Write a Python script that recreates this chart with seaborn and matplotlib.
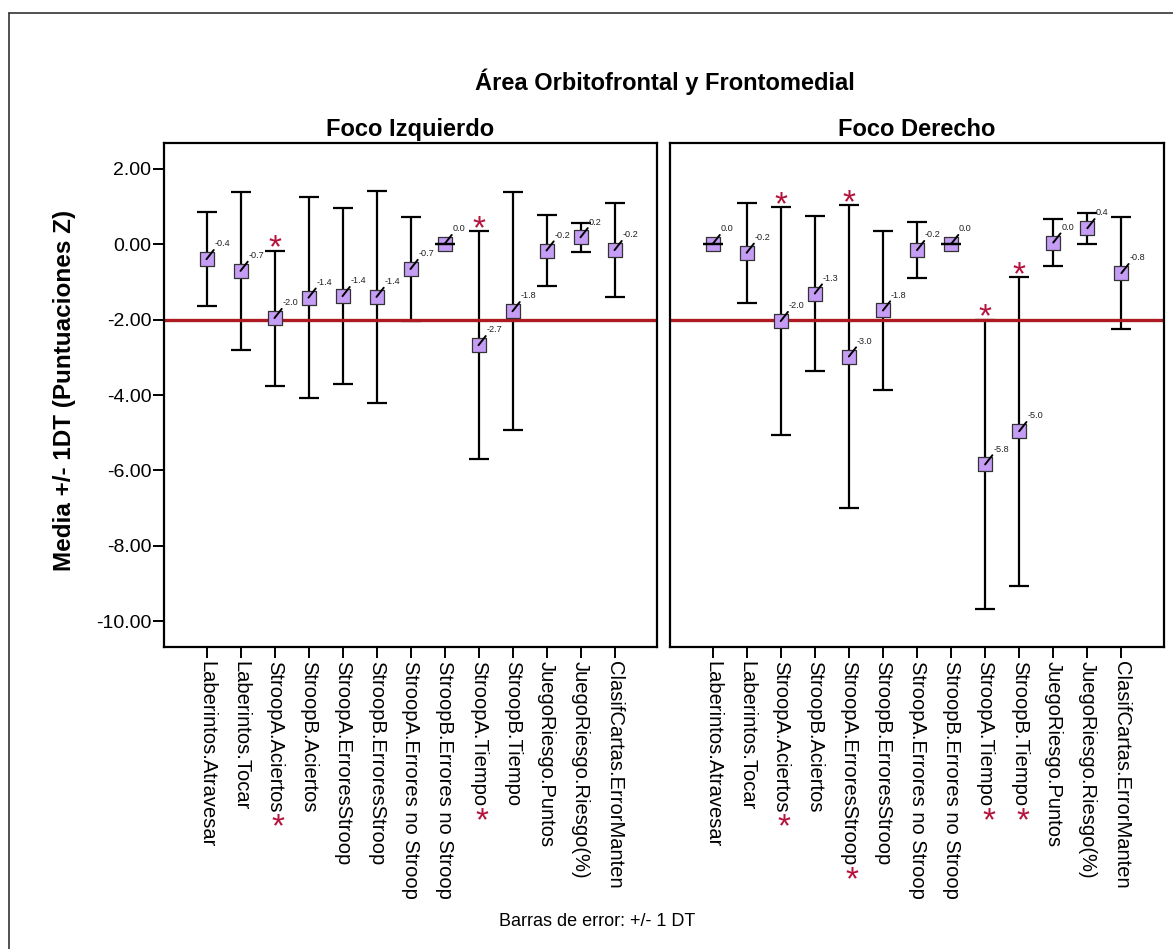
import matplotlib
matplotlib.use("Agg")
import matplotlib.pyplot as plt
from matplotlib.lines import Line2D
import numpy as np
import pandas as pd
import seaborn as sns

# Pruebas neuropsicológicas (eje X común a ambos paneles)
pruebas = [
    "Laberintos.Atravesar", "Laberintos.Tocar", "StroopA.Aciertos",
    "StroopB.Aciertos", "StroopA.ErroresStroop", "StroopB.ErroresStroop",
    "StroopA.Errores no Stroop", "StroopB.Errores no Stroop",
    "StroopA.Tiempo", "StroopB.Tiempo", "JuegoRiesgo.Puntos",
    "JuegoRiesgo.Riesgo(%)", "ClasifCartas.ErrorManten",
]

# Foco izquierdo: media y desviación típica (puntuaciones Z)
media_izq = [-0.40, -0.71, -1.96, -1.42, -1.38, -1.40, -0.66, 0.00,
             -2.68, -1.78, -0.17, 0.18, -0.16]
dt_izq = [1.25, 2.09, 1.79, 2.66, 2.33, 2.81, 1.37, 0.00,
          3.02, 3.16, 0.93, 0.39, 1.24]
sig_izq = [0, 0, 1, 0, 0, 0, 0, 0, 1, 0, 0, 0, 0]

# Foco derecho
media_der = [0.00, -0.23, -2.04, -1.31, -2.98, -1.76, -0.16, 0.00,
             -5.84, -4.96, 0.04, 0.42, -0.77]
dt_der = [0.00, 1.33, 3.02, 2.06, 4.02, 2.10, 0.74, 0.00,
          3.84, 4.09, 0.62, 0.41, 1.49]
sig_der = [0, 0, 1, 0, 1, 0, 0, 0, 1, 1, 0, 0, 0]

paneles = ["Foco Izquierdo", "Foco Derecho"]
y_ticks = [2, 0, -2, -4, -6, -8, -10]
umbral = -2.0

sns.set_style("ticks")
plt.rcParams["font.family"] = ["Liberation Sans", "DejaVu Sans"]
plt.rcParams["text.color"] = "black"
plt.rcParams["axes.labelcolor"] = "black"
plt.rcParams["xtick.color"] = "black"
plt.rcParams["ytick.color"] = "black"

W, H = 1173, 949
fig = plt.figure(figsize=(W / 100, H / 100), dpi=100)


def caja(x0, y0, x1, y1):
    return [x0 / W, 1 - y1 / H, (x1 - x0) / W, (y1 - y0) / H]


ax_izq = fig.add_axes(caja(164, 143, 657, 647))
ax_der = fig.add_axes(caja(670, 143, 1164, 647))

MARCA = "#c59df5"
ROJO = "#ad1a22"
ESTRELLA = "#b5123c"

n = len(pruebas)
x = np.arange(n)

for ax, titulo, medias, dts, sig, con_y in [
    (ax_izq, paneles[0], media_izq, dt_izq, sig_izq, True),
    (ax_der, paneles[1], media_der, dt_der, sig_der, False),
]:
    df = pd.DataFrame({"prueba": pruebas, "pos": x, "media": medias,
                       "desv": dts, "sig": sig})
    con_dt = df[df["desv"] > 0]
    sin_dt = df[df["desv"] == 0]

    ax.errorbar(con_dt["pos"], con_dt["media"], yerr=con_dt["desv"],
                fmt="none", ecolor="black", elinewidth=1.6, capsize=7,
                capthick=1.6, zorder=2)
    ax.axhline(umbral, color=ROJO, lw=2.4, zorder=2.5)

    sns.scatterplot(data=df, x="pos", y="media", marker="s", s=90,
                    color=MARCA, edgecolor="#333333", linewidth=0.9,
                    zorder=3, ax=ax, legend=False)

    if len(sin_dt):
        ax.errorbar(sin_dt["pos"], sin_dt["media"], yerr=sin_dt["desv"],
                    fmt="none", ecolor="black", elinewidth=1.6, capsize=7,
                    capthick=1.6, zorder=3.5)

    # Etiquetas de valor con línea guía
    for pos, m in zip(df["pos"], df["media"]):
        ax.annotate("", xy=(pos, m), xytext=(5.2, 6.6),
                    textcoords="offset points",
                    arrowprops=dict(arrowstyle="-", color="black", lw=1.4,
                                    shrinkA=0, shrinkB=0), zorder=4)
        ax.annotate(f"{m:.1f}", xy=(pos, m), xytext=(5.8, 9.2),
                    textcoords="offset points", ha="left", va="baseline",
                    fontsize=6.6, color="#222222", zorder=4)

    # Asteriscos de significación sobre las barras
    marcadas = df[df["sig"] == 1]
    for pos, m, d in zip(marcadas["pos"], marcadas["media"], marcadas["desv"]):
        ax.annotate("*", xy=(pos, m + d), xytext=(0, -5),
                    textcoords="offset points", ha="center", va="baseline",
                    fontsize=24, color=ESTRELLA, zorder=4)

    ax.set_xlim(-1.25, n + 0.25)
    ax.set_ylim(-10.68, 2.68)
    ax.set_xticks(x)
    ax.set_xticklabels(pruebas, rotation=270, ha="center", va="top")
    ax.set_yticks(y_ticks)
    ax.set_yticklabels([f"{v:.2f}" for v in y_ticks])
    ax.set_xlabel("")
    ax.set_ylabel("")
    ax.set_title(titulo, fontsize=17, fontweight="bold", pad=5,
                 color="black")

    for sp in ax.spines.values():
        sp.set_visible(True)
        sp.set_color("black")
        sp.set_linewidth(1.6)
    ax.tick_params(axis="both", length=8, width=1.4, colors="black",
                   labelsize=14)
    ax.tick_params(axis="x", pad=2, labelsize=14.5)
    ax.tick_params(axis="y", pad=1)
    if not con_y:
        ax.tick_params(axis="y", left=False, labelleft=False)

    # Asterisco rojo tras el nombre de las pruebas significativas
    etiquetas = ax.get_xticklabels()
    for et, s in zip(etiquetas, sig):
        if s:
            ax.annotate("*", xy=(0.5, 0.0), xycoords=et, xytext=(2.5, -17.5),
                        textcoords="offset points", ha="center",
                        va="baseline", fontsize=24, color=ESTRELLA)

fig.text(665 / W, 1 - 82 / H, "Área Orbitofrontal y Frontomedial",
         fontsize=17, fontweight="bold", ha="center", va="center",
         color="black")
fig.text(65 / W, 1 - 390 / H, "Media +/- 1DT (Puntuaciones Z)",
         fontsize=17.5, fontweight="bold", rotation=90,
         ha="center", va="center", color="black")
fig.text(597 / W, 1 - 921 / H, "Barras de error: +/- 1 DT",
         fontsize=13, ha="center", va="center", color="black")

# Marco exterior
xm, ym = 9 / W, 1 - 13 / H
fig.add_artist(Line2D([xm, xm], [0, ym], color="#333333", lw=1.2))
fig.add_artist(Line2D([xm, 1], [ym, ym], color="#333333", lw=1.2))

fig.savefig("out.png", dpi=100)
